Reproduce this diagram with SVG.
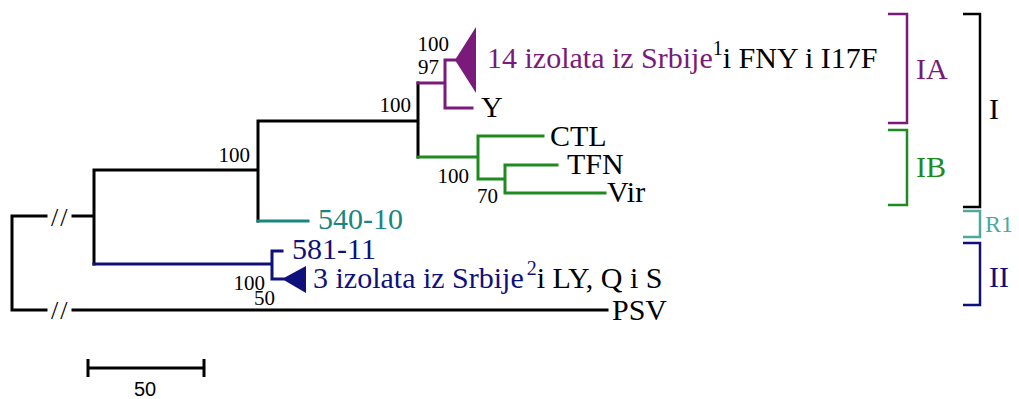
<svg xmlns="http://www.w3.org/2000/svg" width="1019" height="399" viewBox="0 0 1019 399">
<style>
.br{fill:none;stroke-width:3;stroke-linecap:square}
.k{stroke:#000}
.p{stroke:#7a1a7a}
.g{stroke:#1f8a1f}
.t{stroke:#1b8580}
.n{stroke:#10107a}
.bk{fill:none;stroke-width:2.5}
</style>
<rect width="1019" height="399" fill="#fff"/>
<g id="connectors">
<path class="br k" d="M12,216V310M12,216H46M73,216H94M12,310H46M73,310H607M94,170V264M94,170H258M258,121V221M258,121H418M418,83V157"/>
<path class="br p" d="M418,83H445M445,60V108M445,60H456M445,108H472"/>
<polygon points="455,60 476,27 476,93" fill="#7a1a7a"/>
<path class="br g" d="M418,157H478M478,136V179M478,136H543M478,179H505M505,165V193M505,165H557M505,193H605"/>
<path class="br t" d="M258,221H308"/>
<path class="br n" d="M94,264H272M272,251V279M272,251H282M272,279H283"/>
<polygon points="282,279 306,266 306,293" fill="#10107a"/>
</g>
<g font-family="'Liberation Serif', 'Times New Roman', serif">
<g id="breaks" font-size="26" fill="#000">
<text x="51" y="226" letter-spacing="2">//</text>
<text x="51" y="319" letter-spacing="2">//</text>
</g>
<g id="bootstrap" font-size="21" fill="#000" text-anchor="end">
<text x="250" y="162">100</text>
<text x="411" y="112">100</text>
<text x="449" y="51">100</text>
<text x="439" y="74">97</text>
<text x="469" y="183">100</text>
<text x="498" y="203">70</text>
<text x="265" y="290">100</text>
<text x="275" y="305">50</text>
</g>
<g font-size="30">
<g id="node-IA-collapsed">
<text x="487" y="68"><tspan fill="#7a1a7a">14 izolata iz Srbije</tspan><tspan font-size="20" dy="-13" fill="#000">1</tspan><tspan dy="13" fill="#000">i FNY i I17F</tspan></text>
</g>
<g id="node-Y"><text x="481" y="117">Y</text></g>
<g id="node-CTL"><text x="550" y="146">CTL</text></g>
<g id="node-TFN"><text x="567" y="174">TFN</text></g>
<g id="node-Vir"><text x="607" y="202">Vir</text></g>
<g id="node-540-10"><text x="318" y="229" fill="#1b8580">540-10</text></g>
<g id="node-581-11"><text x="292" y="259" fill="#10107a">581-11</text></g>
<g id="node-II-collapsed">
<text x="313" y="288"><tspan fill="#10107a">3 izolata iz Srbije</tspan><tspan font-size="20" dx="3" dy="-13" fill="#10107a">2</tspan><tspan dy="13" fill="#000">i LY, Q i S</tspan></text>
</g>
<g id="node-PSV"><text x="612" y="320">PSV</text></g>
<g id="clade-IA">
<path class="bk" stroke="#7a1a7a" d="M888,14H907V123H888"/>
<text x="916" y="79" fill="#7a1a7a">IA</text>
</g>
<g id="clade-IB">
<path class="bk" stroke="#1f8a1f" d="M888,130H907V205H888"/>
<text x="916" y="177" fill="#1f8a1f">IB</text>
</g>
<g id="clade-I">
<path class="bk" stroke="#000" d="M963,14H980V207H963"/>
<text x="989" y="119">I</text>
</g>
<g id="clade-R1">
<path class="bk" stroke="#4ea8a0" d="M963,211H980V237H963"/>
<text x="985" y="232" font-size="24" fill="#4ea8a0">R1</text>
</g>
<g id="clade-II">
<path class="bk" stroke="#10107a" d="M963,243H980V305H963"/>
<text x="989" y="287" fill="#10107a">II</text>
</g>
</g>
</g>
<g id="scale">
<path fill="none" stroke="#000" stroke-width="3" d="M88,368H204M88,359V377M204,359V377"/>
<text x="145" y="396" text-anchor="middle" font-size="20" font-family="'Liberation Sans', Arial, sans-serif">50</text>
</g>
</svg>
